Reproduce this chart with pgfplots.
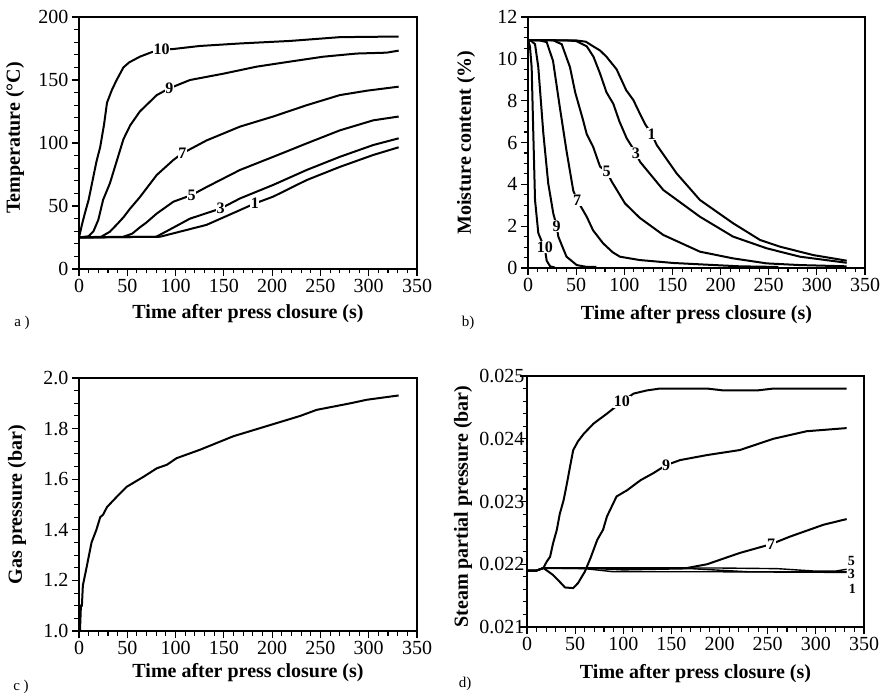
\documentclass[border=0pt]{standalone}
\usepackage{fontspec}
\setmainfont{Liberation Serif}
\usepackage{pgfplots}
\pgfplotsset{compat=1.18}

\pgfplotsset{
  panel/.style={
    scale only axis, width=338pt, height=252pt,
    anchor=south west,
    xmin=0, xmax=350, xtick={0,50,...,350},
    minor x tick num=4,
    axis line style={line width=1.1pt},
    tick align=outside, xtick pos=bottom, ytick pos=left,
    major tick length=7pt, minor tick length=4.5pt,
    xtick style={draw=black, line width=1.1pt},
    ytick style={draw=black, line width=1.1pt},
    minor tick style={draw=black, line width=1.1pt},
    tick label style={font=\fontsize{20}{24}\selectfont},
    label style={font=\bfseries\fontsize{20}{24}\selectfont},
    /pgf/number format/assume math mode=true,
    every axis plot/.append style={line width=2pt},
    every axis plot post/.append style={black, solid, mark=none},
    xlabel={Time after press closure (s)},
  },
}
\tikzset{lab/.style={fill=white, inner sep=0.6pt, font=\bfseries\fontsize{16}{18}\selectfont}}

\begin{document}
\begin{tikzpicture}
\useasboundingbox (0,0) rectangle (884pt,697pt);

% ---------------- a) Temperature
\begin{axis}[panel, at={(79pt,428pt)},
  ymin=0, ymax=200, ytick={0,50,...,200}, minor y tick num=4,
  ylabel={Temperature (°C)},
  xlabel style={at={([yshift=-49pt]axis description cs:0.5,0)}, anchor=base},
  ylabel style={at={([xshift=-64pt]axis description cs:0,0.52)}, anchor=center},
]
\addplot coordinates {(0,25) (3,35) (6,44) (10,55) (14,70) (18,85) (22,97) (26,115) (29,132) (34,142) (39,150) (46,160) (52,164) (63,168.5) (75,172) (85.6,174.3) (97.7,174.6) (125,177) (166.7,179) (218.5,181) (270,184) (331,184.5)};
\addplot coordinates {(0,25) (10,26) (15,30) (20,39) (25,55) (32,68) (40,88) (46,103) (53,114) (63,125) (80.5,138) (93.5,143.4) (115,150) (149.4,155) (184,160.6) (218.5,164.6) (253,168.5) (287.6,171) (318.6,171.7) (331,173.3)};
\addplot coordinates {(0,25) (23,25.6) (32,29.6) (40,36) (46,41) (53,48) (63,57) (80.5,74.6) (97.7,86.5) (107,91.8) (132,102) (166.7,113) (201,121) (235.8,130) (270,138) (298,141.5) (331,144.7)};
\addplot coordinates {(0,25) (46,25.6) (55,28) (63,33) (70,37) (80.5,44) (97.7,53.4) (116.7,58.7) (132,65) (166.7,78.6) (201,89) (235.8,99.7) (270,110) (304.7,118) (331,121)};
\addplot coordinates {(0,25) (80,25.6) (90.8,30) (115,40) (146.7,48) (166.7,56) (201,66.7) (235.8,78.6) (270,89) (304.7,98.4) (331,103.7)};
\addplot coordinates {(0,25) (84,25.6) (97.7,28.3) (132,35) (163,45.5) (182,52) (201,57.4) (235.8,70.6) (270,81) (304.7,90.5) (331,96.6)};
\node[lab] at (axis cs:85.6,174.3) {10};
\node[lab] at (axis cs:93.5,143.4) {9};
\node[lab] at (axis cs:107,91.8) {7};
\node[lab] at (axis cs:116.7,58.7) {5};
\node[lab] at (axis cs:146.7,48) {3};
\node[lab] at (axis cs:182,52) {1};
\end{axis}

% ---------------- b) Moisture content
\begin{axis}[panel, at={(528pt,429pt)}, width=337pt, height=251pt,
  ymin=0, ymax=12, ytick={0,2,...,12}, minor y tick num=3,
  ylabel={Moisture content (\%)},
  xlabel style={at={([yshift=-52pt]axis description cs:0.5,0)}, anchor=base},
  ylabel style={at={([xshift=-62pt]axis description cs:0,0.5)}, anchor=center},
]
\addplot coordinates {(0,10.9) (50,10.88) (60,10.82) (67.6,10.6) (74.8,10.4) (81.5,10.1) (92,9.5) (102,8.5) (109.4,8.03) (116,7.4) (122,6.85) (128.5,6.4) (133.7,5.88) (154.4,4.52) (178.6,3.25) (213,2.14) (241,1.34) (261.7,1.02) (296,0.62) (331,0.35)};
\addplot coordinates {(0,10.9) (40,10.88) (50,10.85) (61,10.6) (68,10.1) (74.8,9.3) (81.5,8.4) (88.6,7.85) (95,7.0) (102.5,6.2) (112,5.5) (116.3,5.08) (140.5,3.73) (178.6,2.45) (213,1.5) (248,0.94) (282.5,0.54) (331,0.25)};
\addplot coordinates {(0,10.9) (26,10.9) (30,10.8) (35,10.7) (43.6,9.6) (49,8.4) (57,7.1) (61,6.4) (67.6,5.8) (74.8,4.85) (81.7,4.6) (87,4.13) (100.7,3.09) (116,2.4) (140.5,1.58) (178.6,0.78) (213,0.46) (248,0.22) (282.5,0.14) (331,0.08)};
\addplot coordinates {(0,10.9) (12,10.88) (19.4,10.8) (26,9.9) (33,7.7) (40,5.6) (47,3.7) (51,3.25) (61,2.45) (67.6,1.8) (78,1.18) (88,0.75) (95.5,0.54) (116,0.38) (151,0.24) (185,0.16) (220,0.08) (260,0.05)};
\addplot coordinates {(0,10.9) (3.5,10.85) (7.3,10.7) (10.7,9.6) (15.9,6.45) (21,4.05) (26.3,2.6) (29.8,2.0) (31.5,1.5) (35,1.1) (40,0.54) (50.6,0.14) (60,0.06) (71,0.05)};
\addplot coordinates {(0,10.9) (2,10.6) (3.8,9.6) (5.5,6.45) (7.3,3.25) (10.7,1.67) (14,1.3) (17.6,0.9) (19.4,0.35) (23,0.08) (28,0.02)};
\node[lab] at (axis cs:128.5,6.4) {1};
\node[lab] at (axis cs:112,5.5) {3};
\node[lab] at (axis cs:81.7,4.6) {5};
\node[lab] at (axis cs:51,3.25) {7};
\node[lab] at (axis cs:29.8,2.0) {9};
\node[lab] at (axis cs:17.6,1.0) {10};
\end{axis}

% ---------------- c) Gas pressure
\begin{axis}[panel, at={(79pt,66pt)}, height=253pt,
  ymin=1, ymax=2, ytick={1,1.2,...,2.01}, minor y tick num=3,
  yticklabel style={/pgf/number format/.cd, fixed, fixed zerofill, precision=1},
  ylabel={Gas pressure (bar)},
  xlabel style={at={([yshift=-46pt]axis description cs:0.5,0)}, anchor=base},
  ylabel style={at={([xshift=-62pt]axis description cs:0,0.5)}, anchor=center},
]
\addplot coordinates {(1,1.0) (2,1.1) (3,1.1) (4,1.18) (8,1.254) (13,1.35) (18,1.40) (22,1.45) (25,1.46) (29,1.49) (39,1.53) (49.4,1.57) (67,1.61) (80.5,1.643) (91,1.657) (101,1.683) (125,1.716) (160,1.77) (194.5,1.81) (229,1.85) (246,1.874) (281,1.90) (298,1.914) (331,1.931)};
\end{axis}

% ---------------- d) Steam partial pressure
\begin{axis}[panel, at={(527pt,70pt)}, width=337pt, height=251pt,
  ymin=0.021, ymax=0.025, ytick={0.021,0.022,0.023,0.024,0.025}, minor y tick num=4,
  scaled y ticks=false,
  yticklabel style={xshift=8pt, /pgf/number format/.cd, fixed, fixed zerofill, precision=3},
  ylabel={Steam partial pressure (bar)},
  xlabel style={at={([yshift=-51pt]axis description cs:0.5,0)}, anchor=base},
  ylabel style={at={([xshift=-64pt]axis description cs:0,0.48)}, anchor=center},
]
\addplot coordinates {(0,0.0219) (10,0.0219) (17,0.02194) (20.4,0.02204) (24,0.02212) (27,0.02233) (31,0.02255) (34,0.0228) (38,0.02302) (41.5,0.02329) (45,0.02358) (48,0.02382) (53,0.02396) (59,0.02408) (69,0.02424) (83,0.0244) (98.6,0.02459) (110.7,0.02472) (124.5,0.02477) (138,0.0248) (187,0.0248) (204,0.02477) (239,0.02477) (256,0.0248) (332,0.0248)};
\addplot coordinates {(0,0.0219) (10,0.0219) (17,0.02194) (27,0.02183) (34,0.02172) (39.5,0.02163) (48,0.02162) (53,0.0217) (60,0.02188) (66,0.0221) (73,0.02239) (79,0.02255) (83,0.02276) (93,0.02308) (104,0.02318) (118,0.02334) (131,0.02345) (144.6,0.02358) (159,0.02366) (187,0.02374) (221,0.02382) (256,0.024) (290.5,0.02412) (332,0.02417)};
\addplot coordinates {(0,0.0219) (10,0.0219) (17,0.02194) (166,0.02194) (187,0.022) (221,0.02218) (253.5,0.02232) (273,0.02244) (308,0.02263) (332,0.02272)};
\addplot[line width=1.4pt] coordinates {(0,0.0219) (10,0.0219) (17,0.02194) (100,0.02194) (200,0.02194) (260,0.02193) (300,0.02189) (320,0.02189) (332,0.02192)};
\addplot[line width=1.4pt] coordinates {(0,0.0219) (10,0.0219) (17,0.02194) (60,0.02194) (100,0.02191) (170,0.02193) (230,0.02188) (332,0.02188)};
\addplot[line width=1.4pt] coordinates {(0,0.0219) (10,0.0219) (17,0.02194) (60,0.02193) (90,0.02188) (150,0.02188) (200,0.02188) (332,0.02187)};
\node[lab] at (axis cs:98.6,0.02459) {10};
\node[lab] at (axis cs:144.6,0.02358) {9};
\node[lab] at (axis cs:253.5,0.02232) {7};
\node[lab, fill=none, font=\bfseries\fontsize{14}{16}\selectfont] at (axis cs:337,0.022055) {5};
\node[lab, fill=none, font=\bfseries\fontsize{14}{16}\selectfont] at (axis cs:337,0.02185) {3};
\node[lab, fill=none, font=\bfseries\fontsize{14}{16}\selectfont] at (axis cs:338,0.02161) {1};
\end{axis}

% panel letters
\node[font=\fontsize{15}{18}\selectfont] at (22pt,374pt) {a )};
\node[font=\fontsize{15}{18}\selectfont] at (468pt,374pt) {b)};
\node[font=\fontsize{15}{18}\selectfont] at (21pt,10pt) {c )};
\node[font=\fontsize{15}{18}\selectfont] at (465pt,13pt) {d)};
\end{tikzpicture}
\end{document}
